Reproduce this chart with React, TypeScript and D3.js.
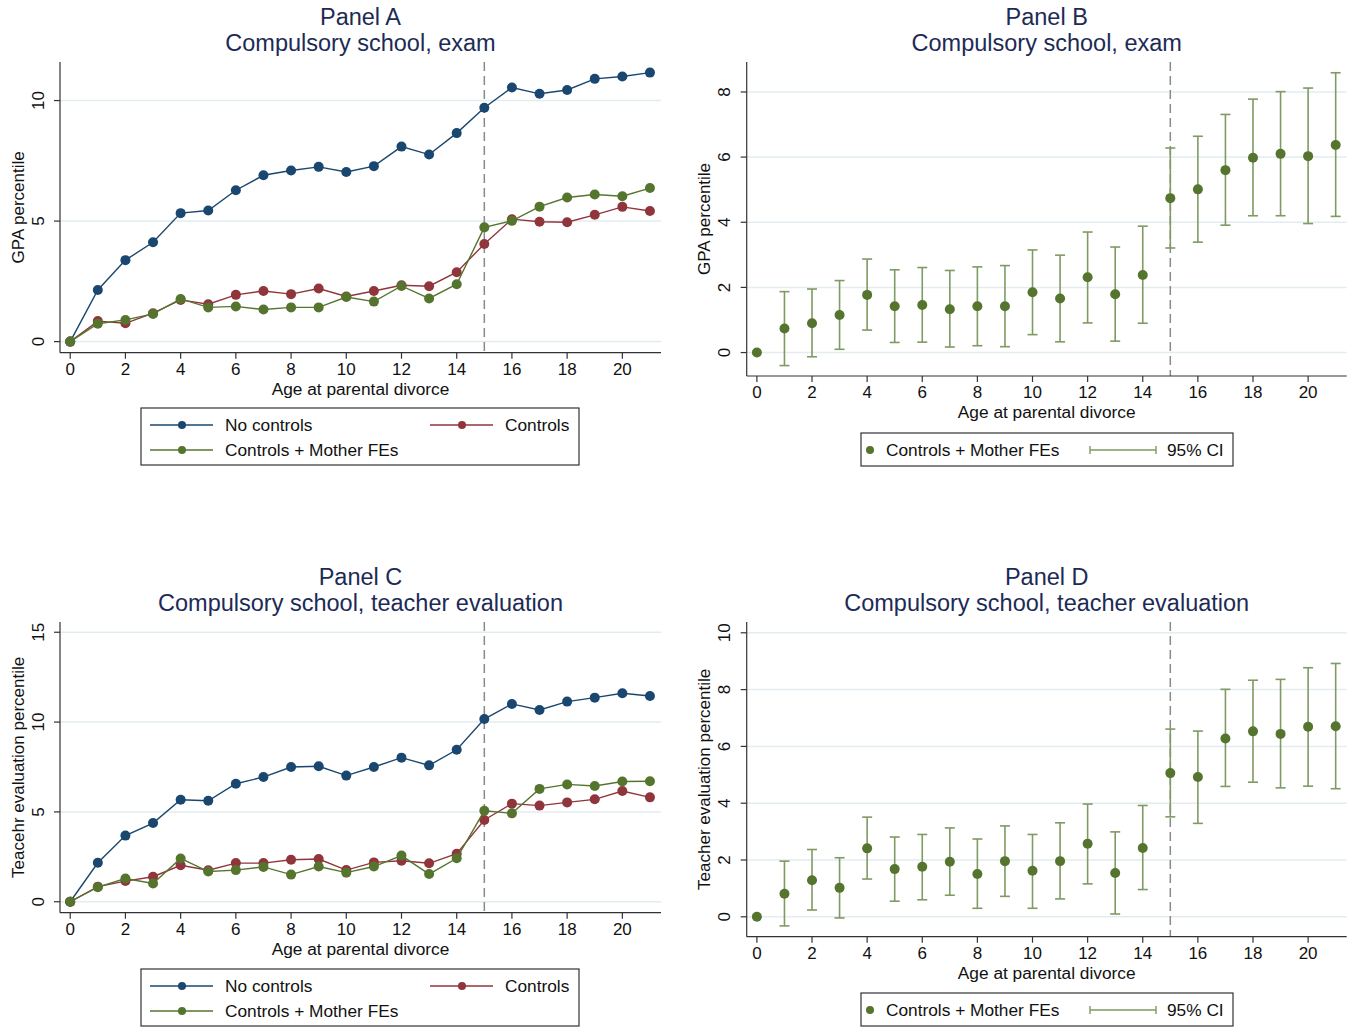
import React from 'react';
import * as d3 from 'd3';

// ages at parental divorce (x categories)
const ages = [0, 1, 2, 3, 4, 5, 6, 7, 8, 9, 10, 11, 12, 13, 14, 15, 16, 17, 18, 19, 20, 21];
const xTicks = [0, 2, 4, 6, 8, 10, 12, 14, 16, 18, 20];
const cutoffAge = 15;

// compulsory school, exam
const examNoControls = [0, 2.14, 3.38, 4.12, 5.33, 5.44, 6.28, 6.9, 7.1, 7.25, 7.04, 7.28, 8.09, 7.76, 8.65, 9.7, 10.54, 10.28, 10.44, 10.9, 11.0, 11.16];
const examControls = [0, 0.85, 0.76, 1.18, 1.73, 1.55, 1.94, 2.1, 1.97, 2.2, 1.87, 2.1, 2.34, 2.3, 2.88, 4.05, 5.08, 4.97, 4.95, 5.26, 5.59, 5.42];
const examMotherFE = [0, 0.74, 0.9, 1.15, 1.77, 1.42, 1.46, 1.33, 1.42, 1.42, 1.85, 1.66, 2.31, 1.79, 2.38, 4.74, 5.01, 5.6, 5.98, 6.1, 6.03, 6.37];
const examCiLow = [null, -0.4, -0.13, 0.1, 0.69, 0.31, 0.32, 0.17, 0.21, 0.18, 0.55, 0.33, 0.91, 0.35, 0.9, 3.21, 3.39, 3.91, 4.2, 4.2, 3.96, 4.18];
const examCiHigh = [null, 1.87, 1.95, 2.21, 2.87, 2.54, 2.61, 2.52, 2.63, 2.67, 3.15, 2.99, 3.7, 3.24, 3.88, 6.28, 6.64, 7.31, 7.78, 8.01, 8.12, 8.59];

// compulsory school, teacher evaluation
const teachNoControls = [0, 2.17, 3.68, 4.38, 5.68, 5.62, 6.57, 6.94, 7.5, 7.54, 7.02, 7.5, 8.02, 7.59, 8.46, 10.17, 11.01, 10.67, 11.14, 11.36, 11.6, 11.45];
const teachControls = [0, 0.84, 1.15, 1.39, 2.03, 1.75, 2.15, 2.15, 2.34, 2.38, 1.76, 2.19, 2.28, 2.14, 2.67, 4.55, 5.46, 5.35, 5.53, 5.7, 6.16, 5.81];
const teachMotherFE = [0, 0.81, 1.29, 1.02, 2.41, 1.68, 1.76, 1.94, 1.51, 1.96, 1.62, 1.96, 2.57, 1.54, 2.42, 5.06, 4.92, 6.28, 6.53, 6.44, 6.69, 6.71];
const teachCiLow = [null, -0.32, 0.24, -0.04, 1.33, 0.55, 0.6, 0.76, 0.3, 0.72, 0.3, 0.63, 1.16, 0.1, 0.96, 3.52, 3.29, 4.59, 4.74, 4.54, 4.6, 4.51];
const teachCiHigh = [null, 1.96, 2.37, 2.08, 3.51, 2.81, 2.9, 3.13, 2.74, 3.2, 2.9, 3.31, 3.97, 2.99, 3.92, 6.61, 6.54, 8.01, 8.33, 8.36, 8.77, 8.92];

const seriesNames = ['No controls', 'Controls', 'Controls + Mother FEs'];
const seriesColors = ['#1a476f', '#90353b', '#55752f'];
const ciColor = '#7f9a62';
const titleColor = '#1c2b55';
const gridColor = '#e3ecf0';
const axisColor = '#333';
const font = '"Liberation Sans", Arial, Helvetica, sans-serif';

type Frame = { left: number; right: number; top: number; bottom: number };

interface PanelProps {
  frame: Frame;
  yDomain: [number, number];
  yTicks: number[];
  title: string;
  subtitle: string;
  yLabel: string;
  children: (x: d3.ScaleLinear<number, number>, y: d3.ScaleLinear<number, number>) => React.ReactNode;
}

const Panel: React.FC<PanelProps> = ({ frame, yDomain, yTicks, title, subtitle, yLabel, children }) => {
  const x = d3.scaleLinear().domain([-0.37, 21.4]).range([frame.left, frame.right]);
  const y = d3.scaleLinear().domain(yDomain).range([frame.bottom, frame.top]);
  const cx = (frame.left + frame.right) / 2;
  const cy = (frame.top + frame.bottom) / 2;
  return (
    <g>
      <text x={cx} y={frame.top - 37} textAnchor="middle" fontSize={23.5} fill={titleColor}>{title}</text>
      <text x={cx} y={frame.top - 11} textAnchor="middle" fontSize={23.5} fill={titleColor}>{subtitle}</text>
      {yTicks.map(t => (
        <line key={'g' + t} x1={frame.left} x2={frame.right} y1={y(t)} y2={y(t)} stroke={gridColor} strokeWidth={1.5} />
      ))}
      <line x1={x(cutoffAge)} x2={x(cutoffAge)} y1={frame.top} y2={frame.bottom}
        stroke="#8a8a8a" strokeWidth={1.5} strokeDasharray="9,5" />
      {children(x, y)}
      <line x1={frame.left} x2={frame.left} y1={frame.top} y2={frame.bottom} stroke={axisColor} strokeWidth={1.2} />
      <line x1={frame.left} x2={frame.right} y1={frame.bottom} y2={frame.bottom} stroke={axisColor} strokeWidth={1.2} />
      {yTicks.map(t => (
        <g key={'y' + t}>
          <line x1={frame.left - 6} x2={frame.left} y1={y(t)} y2={y(t)} stroke={axisColor} strokeWidth={1.2} />
          <text transform={`translate(${frame.left - 22},${y(t)}) rotate(-90)`} textAnchor="middle"
            dominantBaseline="central" fontSize={17} fill="#111">{t}</text>
        </g>
      ))}
      {xTicks.map(t => (
        <g key={'x' + t}>
          <line x1={x(t)} x2={x(t)} y1={frame.bottom} y2={frame.bottom + 6} stroke={axisColor} strokeWidth={1.2} />
          <text x={x(t)} y={frame.bottom + 22} textAnchor="middle" fontSize={17} fill="#111">{t}</text>
        </g>
      ))}
      <text transform={`translate(${frame.left - 42},${cy}) rotate(-90)`} textAnchor="middle"
        dominantBaseline="central" fontSize={17} fill="#111">{yLabel}</text>
      <text x={cx} y={frame.bottom + 42} textAnchor="middle" fontSize={17.3} fill="#111">Age at parental divorce</text>
    </g>
  );
};

const lineSeries = (series: number[][]) => (x: d3.ScaleLinear<number, number>, y: d3.ScaleLinear<number, number>) => {
  const line = d3.line<number>().x((_, i) => x(ages[i])).y(d => y(d));
  return (
    <g>
      {series.map((s, k) => (
        <g key={k}>
          <path d={line(s) || ''} fill="none" stroke={seriesColors[k]} strokeWidth={1.4} />
          {s.map((v, i) => <circle key={i} cx={x(ages[i])} cy={y(v)} r={5} fill={seriesColors[k]} />)}
        </g>
      ))}
    </g>
  );
};

const ciSeries = (est: number[], lo: (number | null)[], hi: (number | null)[]) =>
  (x: d3.ScaleLinear<number, number>, y: d3.ScaleLinear<number, number>) => (
    <g>
      {ages.map((a, i) => {
        const l = lo[i];
        const h = hi[i];
        if (l === null || h === null) return null;
        const px = x(a);
        return (
          <g key={'ci' + i} stroke={ciColor} strokeWidth={1.6}>
            <line x1={px} x2={px} y1={y(l)} y2={y(h)} />
            <line x1={px - 5} x2={px + 5} y1={y(l)} y2={y(l)} />
            <line x1={px - 5} x2={px + 5} y1={y(h)} y2={y(h)} />
          </g>
        );
      })}
      {ages.map((a, i) => <circle key={'p' + i} cx={x(a)} cy={y(est[i])} r={5} fill={seriesColors[2]} />)}
    </g>
  );

const LineLegend: React.FC<{ left: number; top: number }> = ({ left, top }) => {
  const items = [
    { name: seriesNames[0], color: seriesColors[0], dx: 9, dy: 17 },
    { name: seriesNames[1], color: seriesColors[1], dx: 289, dy: 17 },
    { name: seriesNames[2], color: seriesColors[2], dx: 9, dy: 42 },
  ];
  return (
    <g>
      <rect x={left} y={top} width={438} height={57} fill="#fff" stroke="#333" strokeWidth={1.2} />
      {items.map(it => (
        <g key={it.name}>
          <line x1={left + it.dx} x2={left + it.dx + 63} y1={top + it.dy} y2={top + it.dy} stroke={it.color} strokeWidth={1.4} />
          <circle cx={left + it.dx + 32} cy={top + it.dy} r={4} fill={it.color} />
          <text x={left + it.dx + 75} y={top + it.dy} dominantBaseline="central" fontSize={17.3} fill="#111">{it.name}</text>
        </g>
      ))}
    </g>
  );
};

const CiLegend: React.FC<{ left: number; top: number }> = ({ left, top }) => (
  <g>
    <rect x={left} y={top} width={372} height={33} fill="#fff" stroke="#333" strokeWidth={1.2} />
    <circle cx={left + 9} cy={top + 17} r={4} fill={seriesColors[2]} />
    <text x={left + 25} y={top + 17} dominantBaseline="central" fontSize={17.3} fill="#111">{seriesNames[2]}</text>
    <g stroke={ciColor} strokeWidth={1.4}>
      <line x1={left + 229} x2={left + 295} y1={top + 17} y2={top + 17} />
      <line x1={left + 229} x2={left + 229} y1={top + 13} y2={top + 21} />
      <line x1={left + 295} x2={left + 295} y1={top + 13} y2={top + 21} />
    </g>
    <text x={left + 306} y={top + 17} dominantBaseline="central" fontSize={17.3} fill="#111">95% CI</text>
  </g>
);

const frameA: Frame = { left: 60, right: 661, top: 62, bottom: 352.7 };
const frameB: Frame = { left: 746.7, right: 1346.7, top: 62, bottom: 376 };
const frameC: Frame = { left: 60, right: 661, top: 622, bottom: 912.7 };
const frameD: Frame = { left: 746.7, right: 1346.7, top: 622, bottom: 936.7 };

export default function App() {
  return (
    <div style={{ position: 'absolute', left: 0, top: 0, background: '#fff' }}>
      <svg width={1356} height={1028} style={{ display: 'block', fontFamily: font }}>
        <rect width={1356} height={1028} fill="#fff" />
        <Panel frame={frameA} yDomain={[-0.46, 11.6]} yTicks={[0, 5, 10]} title="Panel A"
          subtitle="Compulsory school, exam" yLabel="GPA percentile">
          {lineSeries([examNoControls, examControls, examMotherFE])}
        </Panel>
        <LineLegend left={141} top={408} />

        <Panel frame={frameB} yDomain={[-0.72, 8.92]} yTicks={[0, 2, 4, 6, 8]} title="Panel B"
          subtitle="Compulsory school, exam" yLabel="GPA percentile">
          {ciSeries(examMotherFE, examCiLow, examCiHigh)}
        </Panel>
        <CiLegend left={861} top={433} />

        <Panel frame={frameC} yDomain={[-0.61, 15.57]} yTicks={[0, 5, 10, 15]} title="Panel C"
          subtitle="Compulsory school, teacher evaluation" yLabel="Teacehr evaluation percentile">
          {lineSeries([teachNoControls, teachControls, teachMotherFE])}
        </Panel>
        <LineLegend left={141} top={969} />

        <Panel frame={frameD} yDomain={[-0.7, 10.38]} yTicks={[0, 2, 4, 6, 8, 10]} title="Panel D"
          subtitle="Compulsory school, teacher evaluation" yLabel="Teacher evaluation percentile">
          {ciSeries(teachMotherFE, teachCiLow, teachCiHigh)}
        </Panel>
        <CiLegend left={861} top={993} />
      </svg>
    </div>
  );
}
